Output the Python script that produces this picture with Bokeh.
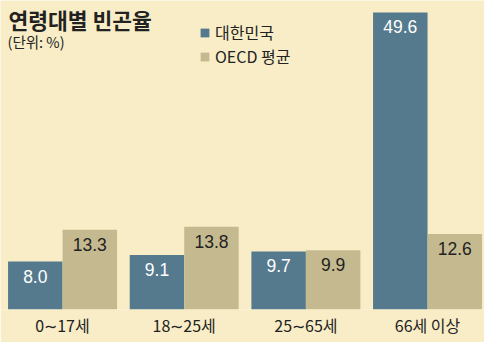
from bokeh.plotting import figure
from bokeh.models import Range1d, FixedTicker, Label, Legend, LegendItem, ColumnDataSource
from bokeh.core.properties import value
from bokeh.embed import file_html
from bokeh.resources import INLINE

# ---- data ----
categories = ["0∼17세", "18∼25세", "25∼65세", "66세 이상"]
korea = [8.0, 9.1, 9.7, 49.6]
oecd = [13.3, 13.8, 9.9, 12.6]
series_names = ["대한민국", "OECD 평균"]
title_text = "연령대별 빈곤율"
unit_text = "(단위: %)"

# ---- style ----
BG = "#f8edc7"
C_KOR = "#567a8d"
C_OECD = "#c5ba8f"
TXT = "#222222"
KFONT = "Noto Sans CJK KR"
NFONT = "Liberation Sans"

W, H = 484, 342
BASE = 309            # pixel row of the baseline (frame bottom)
PX_GROUP = 121.67     # pixels per category
PX_UNIT = 5.988       # pixels per percent
X0 = -0.51
BAR_W = 54.5 / PX_GROUP

def xd(px):
    return X0 + px / PX_GROUP

def yd(py):
    return (BASE - py) / PX_UNIT

p = figure(width=W, height=H, output_backend="svg", toolbar_location=None,
           x_range=Range1d(X0, X0 + W / PX_GROUP), y_range=Range1d(0, BASE / PX_UNIT),
           y_axis_location=None, min_border_left=0, min_border_right=0,
           min_border_top=0, min_border_bottom=H - BASE)
p.background_fill_color = BG
p.border_fill_color = BG
p.outline_line_color = None
p.grid.visible = False

idx = list(range(len(categories)))
src = ColumnDataSource(dict(
    xk=[i - BAR_W / 2 for i in idx], xo=[i + BAR_W / 2 for i in idx],
    korea=korea, oecd=oecd,
    lk=[f"{v:.1f}" for v in korea], lo=[f"{v:.1f}" for v in oecd]))

rk = p.vbar(x="xk", top="korea", width=BAR_W, bottom=0, source=src,
            fill_color=C_KOR, line_color=None)
ro = p.vbar(x="xo", top="oecd", width=BAR_W, bottom=0, source=src,
            fill_color=C_OECD, line_color=None)

p.text(x="xk", y="korea", text="lk", source=src, text_align="center",
       text_baseline="top", y_offset=8, text_color="white",
       text_font=value(NFONT), text_font_size="17.5px")
p.text(x="xo", y="oecd", text="lo", source=src, text_align="center",
       text_baseline="top", y_offset=8, text_color=TXT,
       text_font=value(NFONT), text_font_size="17.5px")

# x axis with category labels
ax = p.xaxis[0]
ax.ticker = FixedTicker(ticks=idx)
ax.major_label_overrides = {i: c for i, c in zip(idx, categories)}
ax.axis_line_color = None
ax.major_tick_line_color = None
ax.minor_tick_line_color = None
ax.major_tick_out = 0
ax.major_tick_in = 0
ax.major_label_standoff = 3
ax.major_label_text_font = KFONT
ax.major_label_text_font_size = "16px"
ax.major_label_text_color = TXT

# title and unit
p.add_layout(Label(x=xd(8), y=yd(3), text=title_text, text_font=KFONT,
                   text_font_size="21.5px", text_font_style="bold",
                   text_color=TXT, text_baseline="top"))
p.add_layout(Label(x=xd(7), y=yd(30), text=unit_text, text_font=KFONT,
                   text_font_size="14.5px", text_color=TXT, text_baseline="top"))

legend = Legend(items=[LegendItem(label=series_names[0], renderers=[rk]),
                       LegendItem(label=series_names[1], renderers=[ro])],
                location=(199, 241), orientation="vertical",
                glyph_width=11, glyph_height=11, label_standoff=5,
                label_height=18, spacing=-4, padding=0, margin=0,
                label_text_font=KFONT, label_text_font_size="16px",
                label_text_color=TXT, background_fill_alpha=0,
                border_line_alpha=0)
p.add_layout(legend)

open("out.html", "w").write(file_html(p, INLINE))
